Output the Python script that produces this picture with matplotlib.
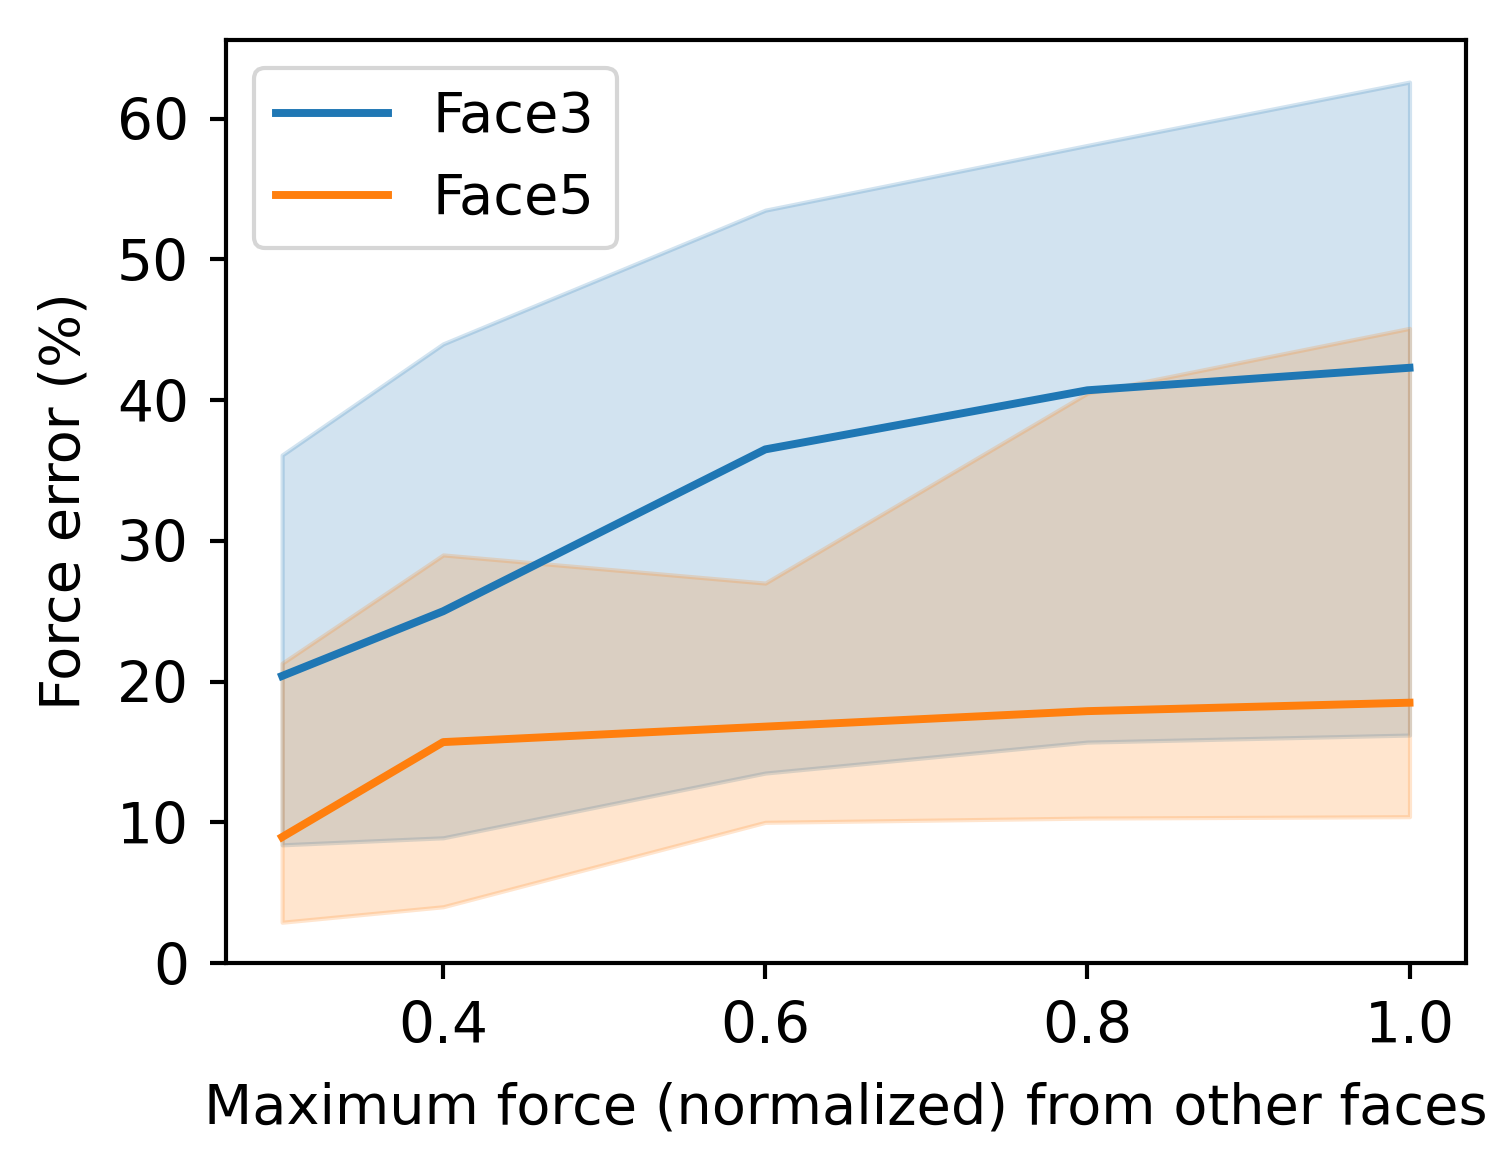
import numpy as np
import matplotlib
matplotlib.use("Agg")
import matplotlib.pyplot as plt

# --- data ---
max_force = [0.3, 0.4, 0.6, 0.8, 1.0]

face3_mean = [20.4, 25.0, 36.5, 40.7, 42.3]
face3_upper = [36.1, 44.0, 53.5, 58.1, 62.6]
face3_lower = [8.4, 8.9, 13.5, 15.7, 16.2]

face5_mean = [8.95, 15.7, 16.8, 17.9, 18.5]
face5_upper = [21.3, 29.0, 27.0, 40.5, 45.1]
face5_lower = [2.9, 4.0, 10.0, 10.3, 10.4]

FS = 13.4

fig = plt.figure(figsize=(1505 / 300, 1173 / 300), dpi=300)
ax = fig.add_axes([0.150, 0.179, 0.824, 0.787])

series = [
    ("Face3", face3_mean, face3_lower, face3_upper, "#1f77b4"),
    ("Face5", face5_mean, face5_lower, face5_upper, "#ff7f0e"),
]
for name, mean, lo, hi, col in series:
    ax.plot(max_force, mean, color=col, lw=1.9, label=name)
    ax.fill_between(max_force, lo, hi, color=col, alpha=0.2)

ax.set_ylim(0, 65.6)
ax.set_xlim(0.265, 1.035)
ax.set_xticks([0.4, 0.6, 0.8, 1.0])
ax.set_xlabel("Maximum force (normalized) from other faces", fontsize=FS, labelpad=6.5)
ax.set_ylabel("Force error (%)", fontsize=FS, labelpad=6)
ax.tick_params(labelsize=13.6, length=3.8, width=1, pad=5)
for sp in ax.spines.values():
    sp.set_linewidth(1)
ax.legend(loc="upper left", fontsize=FS)

fig.savefig("out.png", dpi=300)
